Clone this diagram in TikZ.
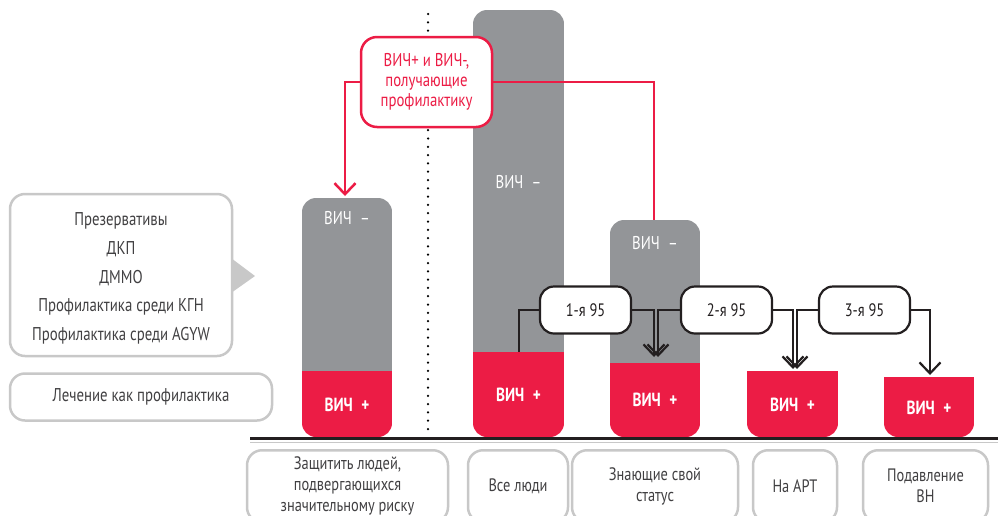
\documentclass[tikz,border=0pt]{standalone}
\usepackage{fontspec}
\setmainfont{PT Sans}[FakeStretch=0.8]
\usetikzlibrary{arrows.meta}
\definecolor{hivred}{HTML}{EC1C45}
\definecolor{bargray}{HTML}{939598}
\definecolor{boxgray}{HTML}{C8C8C8}
\definecolor{txtgray}{HTML}{414042}
\definecolor{lineblack}{HTML}{231F20}
\begin{document}
\begin{tikzpicture}[x=1pt,y=-1pt,
  lbl/.style={font=\fontsize{18.5}{21}\selectfont, text=txtgray, align=center, inner sep=0pt},
  graybox/.style={draw=boxgray, line width=2.5pt, rounded corners=15pt, fill=white},
  botbox/.style={graybox, anchor=north, minimum height=72pt, font=\fontsize{18}{21}\selectfont, text=txtgray, align=center, inner sep=0pt},
  minus/.style={font=\fontsize{18.5}{20}\selectfont, text=white, inner sep=0pt},
  plus/.style={font=\bfseries\fontsize{19}{20}\selectfont, text=white, inner sep=0pt},
  redbox/.style={draw=hivred, line width=2.5pt, rounded corners=16pt, fill=white, text=hivred, align=center, font=\fontsize{18.5}{20}\selectfont, minimum width=131pt, minimum height=90pt, inner sep=0pt},
  ninebox/.style={draw=lineblack, line width=2.2pt, rounded corners=14pt, fill=white, text=lineblack, font=\fontsize{18}{20}\selectfont, minimum width=91pt, minimum height=47pt, inner sep=0pt},
  redline/.style={draw=hivred, line width=2.5pt},
  blkline/.style={draw=lineblack, line width=2.2pt},
  barb/.style={-{Straight Barb[length=11pt,width=21pt]}}
]
\clip (0,0) rectangle (998,515);
\fill[white] (0,0) rectangle (998,515);

% dotted separator
\draw[line width=2.5pt, line cap=round, dash pattern=on 0pt off 8.3pt] (428,14) -- (428,436);

% bars
\begin{scope}
  \clip[rounded corners=14pt] (302,198) rectangle (392,437);
  \fill[bargray] (302,198) rectangle (392,371);
  \fill[hivred] (302,371) rectangle (392,437);
\end{scope}
\begin{scope}
  \clip[rounded corners=14pt] (473,10) rectangle (564,437);
  \fill[bargray] (473,10) rectangle (564,352);
  \fill[hivred] (473,352) rectangle (564,437);
\end{scope}
\begin{scope}
  \clip[rounded corners=14pt] (610,220) rectangle (700,437);
  \fill[bargray] (610,220) rectangle (700,363);
  \fill[hivred] (610,363) rectangle (700,437);
\end{scope}
\begin{scope}
  \clip[rounded corners=14pt] (747,330) rectangle (838,437);
  \fill[hivred] (747,371) rectangle (838,437);
\end{scope}
\begin{scope}
  \clip[rounded corners=14pt] (884,330) rectangle (974,437);
  \fill[hivred] (884,377) rectangle (974,437);
\end{scope}

% baseline
\draw[lineblack, line width=2.5pt] (250,438.5) -- (998,438.5);
\draw[boxgray, line width=1pt] (250,442) -- (998,442);

% bar labels
\node[minus] (m1) at (347,218) {ВИЧ\hspace{0.45em}–};
\node[minus] (m2) at (518.5,182) {ВИЧ\hspace{0.45em}–};
\node[minus] (m3) at (655,243) {ВИЧ\hspace{0.45em}–};
\node[plus] (p1) at (347,405) {ВИЧ\hspace{0.45em}+};
\node[plus] (p2) at (518.5,395) {ВИЧ\hspace{0.45em}+};
\node[plus] (p3) at (655,400) {ВИЧ\hspace{0.45em}+};
\node[plus] (p4) at (792.5,405) {ВИЧ\hspace{0.45em}+};
\node[plus] (p5) at (929,408) {ВИЧ\hspace{0.45em}+};

% red callout
\coordinate (b1top) at (345,196);
\coordinate (b3top) at (654,220);
\node[redbox] (rbox) at (426.5,82) {ВИЧ+ и ВИЧ-,\\получающие\\профилактику};
\draw[redline, barb] (rbox.west) -| (b1top);
\draw[redline] (rbox.east) -| (b3top);

% 95 boxes
\node[ninebox] (n1) at (585.5,310) {1-я 95};
\node[ninebox] (n2) at (726.5,310) {2-я 95};
\node[ninebox] (n3) at (864.5,310) {3-я 95};
\coordinate (c2) at (519,352);
\coordinate (c3a) at (654,357);
\coordinate (c3b) at (658,357);
\coordinate (c4a) at (793,369);
\coordinate (c4b) at (797,369);
\coordinate (c5) at (930,375);
\draw[blkline] (n1.west) -| (c2);
\draw[blkline, barb] (n1.east) -| (c3a);
\draw[blkline, barb] (n2.west) -| (c3b);
\draw[blkline, barb] (n2.east) -| (c4a);
\draw[blkline, barb] (n3.west) -| (c4b);
\draw[blkline, barb] (n3.east) -| (c5);

% left boxes
\node[graybox, minimum width=222pt, minimum height=162pt] (lbox) at (121,275) {};
\fill[boxgray] (231,258) -- (255,276) -- (231,293) -- cycle;
\node[lbl] (t1) at (121,221) {Презервативы};
\node[lbl] (t2) at (121,249.5) {ДКП};
\node[lbl] (t3) at (121,278) {ДММО};
\node[lbl] (t4) at (121,307) {Профилактика среди КГН};
\node[lbl] (t5) at (121,336) {Профилактика среди AGYW};
\node[graybox, minimum width=262pt, minimum height=47pt, font=\fontsize{18.5}{21}\selectfont, text=txtgray, inner sep=0pt] (lbox2) at (141,397) {Лечение как профилактика};

% bottom boxes
\node[botbox, minimum width=201pt] (bb1) at (347.5,449) {Защитить людей,\\подвергающихся\\значительному риску};
\node[botbox, minimum width=100pt] (bb2) at (518,449) {Все люди};
\node[botbox, minimum width=166pt] (bb3) at (655,449) {Знающие свой\\статус};
\node[botbox, minimum width=84pt] (bb4) at (795,449) {На АРТ};
\node[botbox, minimum width=125pt] (bb5) at (925.5,449) {Подавление\\ВН};
\end{tikzpicture}
\end{document}
